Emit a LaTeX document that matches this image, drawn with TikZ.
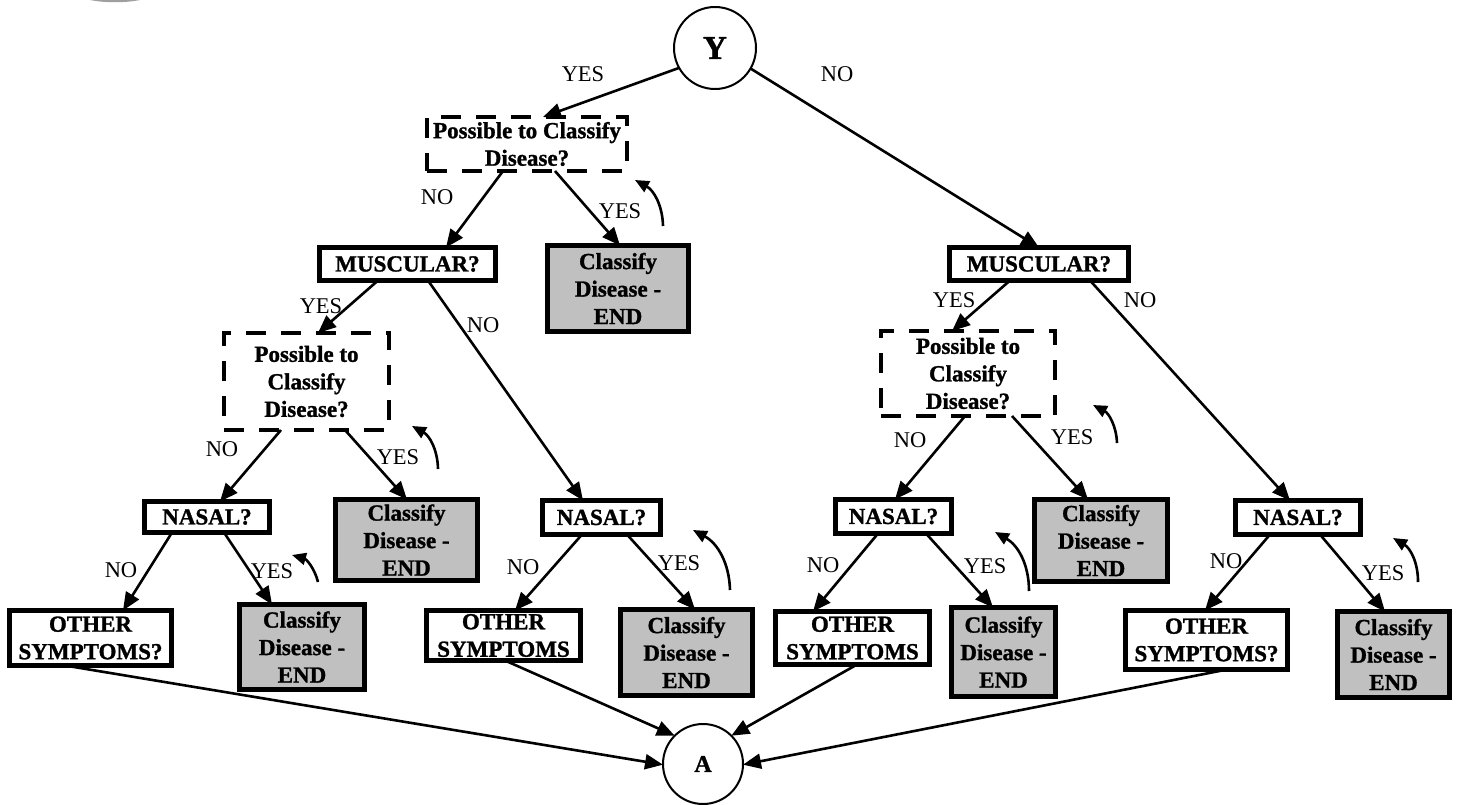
\documentclass[tikz,border=0pt]{standalone}
\usepackage{fontspec}
\setmainfont{Liberation Serif}[BoldFeatures={FakeBold=1.2}]
\usetikzlibrary{arrows.meta}
\definecolor{endgray}{HTML}{C0C0C0}
\begin{document}
\begin{tikzpicture}[x=1pt,y=-1pt,
  every node/.style={inner sep=0pt, outer sep=0pt},
  boxtext/.style={font=\fontsize{23}{27.5}\selectfont\bfseries, align=center},
  qbox/.style={boxtext, draw, line width=5pt, fill=white},
  endbox/.style={qbox, fill=endgray},
  dbox/.style={boxtext, draw, line width=4.2pt, dash pattern=on 20pt off 15pt},
  term/.style={circle, draw, line width=2pt, fill=white},
  lbl/.style={font=\fontsize{22.5}{26}\selectfont},
  link/.style={line width=2.6pt, -{Triangle[length=18pt,width=15pt]}},
  back/.style={line width=2.6pt, -{Triangle[length=14pt,width=12pt]}, bend right=30}
]
\useasboundingbox (0,0) rectangle (1458,805);

% small shaded sliver at the upper edge
\fill[gray!75] (90,0) .. controls (105,3) and (125,3) .. (140,0) -- cycle;

% start and end points
\node[term, minimum size=82pt, font=\fontsize{33}{36}\selectfont\bfseries] (Y) at (715,48) {Y};
\node[term, minimum size=80pt, font=\fontsize{24}{26}\selectfont\bfseries] (A) at (703,764) {A};

% left branch
\node[dbox, minimum width=200pt, minimum height=54pt] (pc1) at (527,144) {Possible to Classify\\Disease?};
\node[qbox, minimum width=176pt, minimum height=33pt] (musL) at (407.5,264) {MUSCULAR?};
\node[endbox, minimum width=141pt, minimum height=86pt] (g1) at (618,288.5) {Classify\\Disease -\\END};
\node[dbox, minimum width=165pt, minimum height=97pt] (pc2) at (306.5,381.5) {Possible to\\Classify\\Disease?};
\node[qbox, minimum width=125pt, minimum height=31pt] (nasL) at (207,517) {NASAL?};
\node[endbox, minimum width=142pt, minimum height=81pt] (g2) at (406.5,540) {Classify\\Disease -\\END};
\node[qbox, minimum width=162pt, minimum height=55pt] (othL) at (90.5,638) {OTHER\\SYMPTOMS?};
\node[endbox, minimum width=125pt, minimum height=85pt] (g3) at (302,647) {Classify\\Disease -\\END};
\node[qbox, minimum width=118pt, minimum height=34pt] (nasM) at (601.5,517.5) {NASAL?};
\node[qbox, minimum width=154pt, minimum height=50pt] (othM) at (503.5,635.5) {OTHER\\SYMPTOMS};
\node[endbox, minimum width=132pt, minimum height=86pt] (g4) at (686.5,652.5) {Classify\\Disease -\\END};

% right branch
\node[qbox, minimum width=179pt, minimum height=33pt] (musR) at (1039,264) {MUSCULAR?};
\node[dbox, minimum width=174pt, minimum height=85pt] (pc3) at (968,373.5) {Possible to\\Classify\\Disease?};
\node[qbox, minimum width=116pt, minimum height=34pt] (nasRM) at (893.5,516.5) {NASAL?};
\node[endbox, minimum width=133pt, minimum height=82pt] (g5) at (1101,540.5) {Classify\\Disease -\\END};
\node[qbox, minimum width=154pt, minimum height=53pt] (othRM) at (852.5,638) {OTHER\\SYMPTOMS};
\node[endbox, minimum width=104pt, minimum height=89pt] (g6) at (1003.5,652) {Classify\\Disease -\\END};
\node[qbox, minimum width=125pt, minimum height=34pt] (nasR) at (1298,517.5) {NASAL?};
\node[qbox, minimum width=162pt, minimum height=59pt] (othR) at (1206.5,640) {OTHER\\SYMPTOMS?};
\node[endbox, minimum width=112pt, minimum height=86pt] (g7) at (1393.5,654.5) {Classify\\Disease -\\END};

% decision links
\draw[link] (Y.209) -- ([xshift=16pt]pc1.north);
\draw[link] (Y.330) -- (musR.north);
\draw[link] ([xshift=-24pt]pc1.south) -- ([xshift=38.5pt]musL.north);
\draw[link] ([xshift=28pt]pc1.south) -- ([xshift=2pt]g1.north);
\draw[link] ([xshift=-29.5pt]musL.south) -- ([xshift=11.5pt]pc2.north);
\draw[link] ([xshift=20.5pt]musL.south) -- ([xshift=-18.5pt]nasM.north);
\draw[link] ([xshift=-25.5pt]pc2.south) -- ([xshift=13pt]nasL.north);
\draw[link] ([xshift=38.5pt]pc2.south) -- ([xshift=0.5pt]g2.north);
\draw[link] ([xshift=-35pt]nasL.south) -- ([xshift=32.5pt]othL.north);
\draw[link] ([xshift=17pt]nasL.south) -- ([xshift=-30pt]g3.north);
\draw[link] ([xshift=-19.5pt]nasM.south) -- ([xshift=11.5pt]othM.north);
\draw[link] ([xshift=25.5pt]nasM.south) -- ([xshift=8.5pt]g4.north);
\draw[link] ([xshift=-29pt]musR.south) -- ([xshift=-16pt]pc3.north);
\draw[link] ([xshift=51pt]musR.south) -- ([xshift=-8pt]nasR.north);
\draw[link] ([xshift=-3pt]pc3.south) -- ([xshift=1.5pt]nasRM.north);
\draw[link] ([xshift=44pt]pc3.south) -- ([xshift=-13pt]g5.north);
\draw[link] ([xshift=-15.5pt]nasRM.south) -- ([xshift=-39.5pt]othRM.north);
\draw[link] ([xshift=32.5pt]nasRM.south) -- ([xshift=-10.5pt]g6.north);
\draw[link] ([xshift=-28pt]nasR.south) -- ([xshift=-1.5pt]othR.north);
\draw[link] ([xshift=22pt]nasR.south) -- ([xshift=-8.5pt]g7.north);

% links into A
\draw[link] ([xshift=-25.5pt]othL.south) -- (A.181);
\draw[link] ([xshift=1.5pt]othM.south) -- (A.135);
\draw[link] ([xshift=4.5pt]othRM.south) -- (A.45);
\draw[link] ([xshift=20.5pt]othR.south) -- (A.359);

% return arrows
\coordinate (r1a) at (663,226); \coordinate (r1b) at (635,180);
\coordinate (r2a) at (438,469); \coordinate (r2b) at (412,426);
\coordinate (r3a) at (318,582); \coordinate (r3b) at (292,555);
\coordinate (r4a) at (730,590); \coordinate (r4b) at (693,530);
\coordinate (r5a) at (1117,443); \coordinate (r5b) at (1093,405);
\coordinate (r6a) at (1029,591); \coordinate (r6b) at (995,532);
\coordinate (r7a) at (1418,582); \coordinate (r7b) at (1393,538);
\foreach \r in {r1,r2,r3,r4,r5,r6,r7} \draw[back] (\r a) to (\r b);

% branch labels
\node[lbl] (t1) at (583,74) {YES};
\node[lbl] (t2) at (837,74) {NO};
\node[lbl] (t3) at (437,197) {NO};
\node[lbl] (t4) at (620,211) {YES};
\node[lbl] (t5) at (321,306) {YES};
\node[lbl] (t6) at (483,325) {NO};
\node[lbl] (t7) at (222,449) {NO};
\node[lbl] (t8) at (398,457) {YES};
\node[lbl] (t9) at (121,570) {NO};
\node[lbl] (t10) at (272,571) {YES};
\node[lbl] (t11) at (523,567) {NO};
\node[lbl] (t12) at (679,563) {YES};
\node[lbl] (t13) at (954,300) {YES};
\node[lbl] (t14) at (1140,300) {NO};
\node[lbl] (t15) at (910,440) {NO};
\node[lbl] (t16) at (1072,437) {YES};
\node[lbl] (t17) at (823,565) {NO};
\node[lbl] (t18) at (985,566) {YES};
\node[lbl] (t19) at (1226,561) {NO};
\node[lbl] (t20) at (1383,573) {YES};
\end{tikzpicture}
\end{document}
